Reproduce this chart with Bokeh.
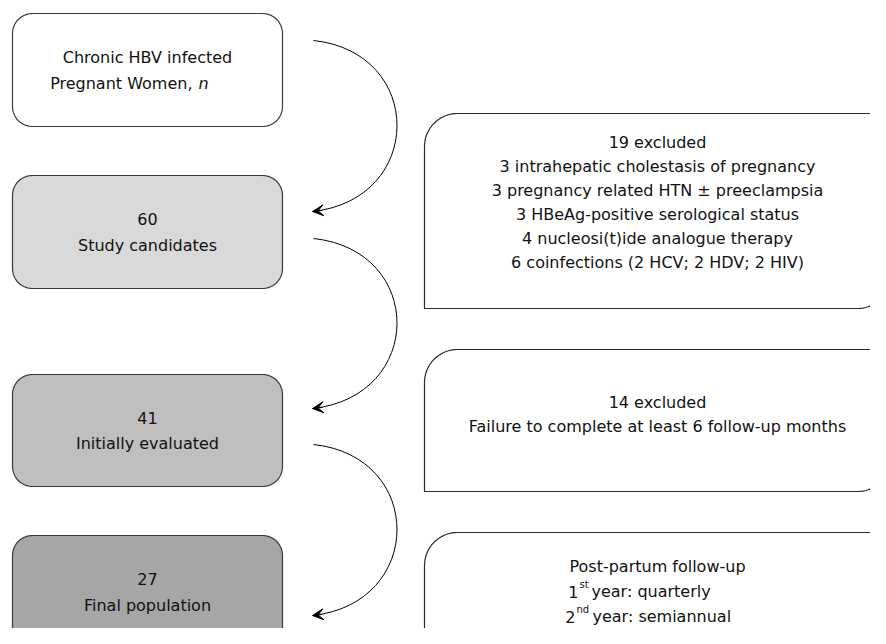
import numpy as np
from bokeh.plotting import figure
from bokeh.models import Range1d, Arrow, VeeHead
from bokeh.core.properties import value
from bokeh.embed import file_html
from bokeh.resources import INLINE

# ---------------- data ----------------
stage_counts = ["", "60", "41", "27"]
stage_labels = ["Chronic HBV infected", "Study candidates", "Initially evaluated", "Final population"]
first_box_line2 = "Pregnant Women,"
first_box_italic = "n"
excluded_headers = ["19 excluded", "14 excluded"]
exclusion_reasons_1 = [
    "3 intrahepatic cholestasis of pregnancy",
    "3 pregnancy related HTN \u00b1 preeclampsia",
    "3 HBeAg-positive serological status",
    "4 nucleosi(t)ide analogue therapy",
    "6 coinfections (2 HCV; 2 HDV; 2 HIV)",
]
exclusion_reasons_2 = ["Failure to complete at least 6 follow-up months"]
followup_title = "Post-partum follow-up"
followup_years = ["1", "2"]
followup_suffix = ["st", "nd"]
followup_freq = ["year: quarterly", "year: semiannual"]

# ---------------- layout ----------------
FONT = value("DejaVu Sans")
FS = "16px"
TXT = "#111111"
LS_L = 26   # line spacing, left boxes
LS_R = 24   # line spacing, right boxes

left_x0, left_x1 = 12, 282
left_tops = [13, 175, 374, 535]
left_bottoms = [126, 288, 486, 648]
left_fills = ["#ffffff", "#d9d9d9", "#bfbfbf", "#a6a6a6"]
left_r = 20

right_x0, right_x1 = 424, 890
right_tops = [113, 349, 532]
right_bottoms = [308, 491, 652]
right_first_baseline = [141.5, 402, 566]
right_r = 33

arc_start_y = [40, 238, 444]
arc_end_y = [211, 408, 615]
arc_x0, arc_x1 = 313, 312
arc_k, arc_s = 112, 12


def rrect(x0, y0, x1, y1, rtl, rtr, rbr, rbl, n=20):
    xs, ys = [], []
    corners = [
        (x0 + rtl, y0 + rtl, rtl, 180, 270),
        (x1 - rtr, y0 + rtr, rtr, 270, 360),
        (x1 - rbr, y1 - rbr, rbr, 0, 90),
        (x0 + rbl, y1 - rbl, rbl, 90, 180),
    ]
    for cx, cy, r, a0, a1 in corners:
        t = np.radians(np.linspace(a0, a1, n))
        xs.extend(list(cx + r * np.cos(t)))
        ys.extend(list(cy + r * np.sin(t)))
    return xs, ys


W, H = 870, 628
p = figure(width=W, height=H, output_backend="svg", toolbar_location=None,
           x_range=Range1d(0, W), y_range=Range1d(H, 0),
           min_border=0)
p.axis.visible = False
p.grid.visible = False
p.outline_line_color = None
p.background_fill_color = "white"
p.border_fill_color = "white"

# left boxes
lxs, lys = [], []
for t, b in zip(left_tops, left_bottoms):
    xs, ys = rrect(left_x0, t, left_x1, b, left_r, left_r, left_r, left_r)
    lxs.append(xs)
    lys.append(ys)
p.patches(lxs, lys, fill_color=left_fills, line_color="#3a3a3a", line_width=1.2)

# right boxes
rxs, rys = [], []
for t, b in zip(right_tops, right_bottoms):
    xs, ys = rrect(right_x0, t, right_x1, b, right_r, 0, right_r, 0)
    rxs.append(xs)
    rys.append(ys)
p.patches(rxs, rys, fill_color="white", line_color="#2a2a2a", line_width=1.2)

# arrows
for ys0, ye in zip(arc_start_y, arc_end_y):
    p.bezier(x0=[arc_x0], y0=[ys0], x1=[arc_x1], y1=[ye],
             cx0=[arc_x0 + arc_k], cy0=[ys0 + arc_s],
             cx1=[arc_x1 + arc_k], cy1=[ye - arc_s],
             line_color="black", line_width=1)
    d = np.array([-arc_k, arc_s], dtype=float)
    d /= np.linalg.norm(d)
    p.add_layout(Arrow(end=VeeHead(size=11, fill_color="black", line_color="black", line_width=1),
                       x_start=arc_x1 - 10 * d[0], y_start=ye - 10 * d[1],
                       x_end=arc_x1, y_end=ye, line_color="black", line_width=1))

txt_kw = dict(text_font=FONT, text_font_size=FS, text_color=TXT, text_baseline="alphabetic")
lcx = (left_x0 + left_x1) / 2
rcx = 657

# left box texts
for i, (t, b) in enumerate(zip(left_tops, left_bottoms)):
    c = (t + b) / 2
    b1, b2 = c - 13, c + 13
    if i == 0:
        p.text(x=[lcx], y=[b1], text=[stage_labels[0]], text_align="center", **txt_kw)
        p.text(x=[192], y=[b2], text=[first_box_line2], text_align="right", **txt_kw)
        p.text(x=[198], y=[b2], text=[first_box_italic], text_align="left",
               text_font_style="italic", **txt_kw)
    else:
        p.text(x=[lcx, lcx], y=[b1, b2], text=[stage_counts[i], stage_labels[i]],
               text_align="center", **txt_kw)

# right box texts
blocks = [[excluded_headers[0]] + exclusion_reasons_1,
          [excluded_headers[1]] + exclusion_reasons_2]
for blk, fb in zip(blocks, right_first_baseline[:2]):
    n = len(blk)
    ys = [fb + k * LS_R for k in range(n)]
    p.text(x=[rcx] * n, y=ys, text=blk, text_align="center", **txt_kw)

y0 = right_first_baseline[2]
LS_C = 25
p.text(x=[rcx], y=[y0], text=[followup_title], text_align="center", **txt_kw)
num_x = [578, 575]
for k in range(2):
    yy = y0 + (k + 1) * LS_C
    p.text(x=[num_x[k]], y=[yy], text=[followup_years[k]], text_align="right", **txt_kw)
    p.text(x=[num_x[k] + 1], y=[yy - 7], text=[followup_suffix[k]], text_align="left",
           text_font=FONT, text_font_size="10px", text_color=TXT, text_baseline="alphabetic")
    p.text(x=[num_x[k] + (13 if k == 0 else 17)], y=[yy], text=[followup_freq[k]],
           text_align="left", **txt_kw)

open("out.html", "w").write(file_html(p, INLINE))
